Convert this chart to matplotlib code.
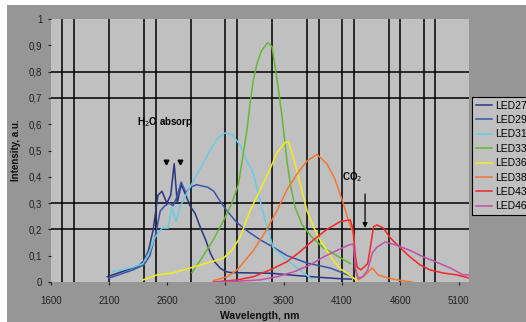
import matplotlib
matplotlib.use("Agg")
import matplotlib.pyplot as plt
from matplotlib.patches import Rectangle
from matplotlib.ticker import FuncFormatter

plt.rcParams['font.family'] = ['Liberation Sans', 'DejaVu Sans']

# ---------------- data ----------------
led27_wl = [2085, 2150, 2250, 2350, 2400, 2440, 2480, 2520, 2555, 2597, 2630, 2660, 2686, 2720, 2760, 2795,
            2840, 2882, 2930, 2970, 3010, 3054, 3100, 3140, 3250, 3400, 3500, 3700, 3900, 4100, 4180]
led27_i = [0.02, 0.03, 0.045, 0.06, 0.08, 0.12, 0.2, 0.33, 0.345, 0.30, 0.33, 0.45, 0.30, 0.37, 0.33, 0.29,
           0.26, 0.21, 0.16, 0.11, 0.075, 0.053, 0.04, 0.036, 0.035, 0.034, 0.033, 0.025, 0.018, 0.012, 0.011]

led29_wl = [2100, 2200, 2300, 2400, 2450, 2500, 2540, 2580, 2620, 2650, 2680, 2720, 2760, 2800, 2850, 2900,
            2950, 3000, 3050, 3113, 3200, 3300, 3400, 3500, 3630, 3800, 4000, 4190]
led29_i = [0.015, 0.03, 0.045, 0.065, 0.1, 0.18, 0.27, 0.29, 0.30, 0.29, 0.32, 0.38, 0.34, 0.36, 0.37, 0.365,
           0.36, 0.345, 0.31, 0.27, 0.225, 0.19, 0.16, 0.135, 0.10, 0.072, 0.053, 0.02]

led31_wl = [2130, 2200, 2300, 2392, 2453, 2496, 2555, 2608, 2640, 2676, 2710, 2770, 2856, 2968, 3030, 3096,
            3160, 3225, 3285, 3340, 3397, 3455, 3510, 3627, 3740, 3843]
led31_i = [0.04, 0.045, 0.055, 0.07, 0.12, 0.17, 0.205, 0.205, 0.285, 0.23, 0.285, 0.34, 0.41, 0.50, 0.545, 0.567,
           0.56, 0.52, 0.46, 0.41, 0.31, 0.21, 0.13, 0.084, 0.046, 0.01]

led33_wl = [2812, 2910, 2995, 3080, 3155, 3210, 3250, 3285, 3311, 3340, 3370, 3410, 3463, 3500, 3525, 3555,
            3585, 3610, 3628, 3655, 3697, 3755, 3843, 3940, 4057, 4171]
led33_i = [0.035, 0.10, 0.16, 0.23, 0.30, 0.37, 0.48, 0.58, 0.68, 0.77, 0.83, 0.88, 0.91, 0.895, 0.82, 0.73,
           0.63, 0.53, 0.46, 0.375, 0.285, 0.22, 0.17, 0.13, 0.10, 0.07]

led36_wl = [2392, 2512, 2650, 2795, 2940, 3080, 3155, 3225, 3310, 3397, 3483, 3540, 3611, 3640, 3683, 3740,
            3800, 3855, 3912, 3970, 4030, 4085, 4154, 4200, 4230]
led36_i = [0.008, 0.027, 0.035, 0.053, 0.072, 0.09, 0.12, 0.17, 0.27, 0.35, 0.43, 0.49, 0.53, 0.535, 0.475, 0.375,
           0.27, 0.21, 0.16, 0.12, 0.08, 0.05, 0.03, 0.015, 0.005]

led38_wl = [2995, 3115, 3200, 3340, 3455, 3540, 3627, 3713, 3800, 3885, 3970, 4040, 4110, 4154, 4197, 4215,
            4240, 4300, 4360, 4410, 4500, 4600, 4700]
led38_i = [0.005, 0.02, 0.046, 0.12, 0.2, 0.27, 0.35, 0.41, 0.46, 0.485, 0.45, 0.39, 0.30, 0.236, 0.186, 0.05,
           0.008, 0.027, 0.053, 0.027, 0.015, 0.006, 0.0]

led43_wl = [3000, 3200, 3340, 3483, 3627, 3740, 3855, 3970, 4085, 4171, 4195, 4215, 4230, 4260, 4290, 4320,
            4343, 4370, 4400, 4455, 4510, 4600, 4685, 4770, 4855, 4970, 5085, 5190]
led43_i = [0.0, 0.008, 0.02, 0.046, 0.077, 0.115, 0.16, 0.2, 0.23, 0.236, 0.2, 0.1, 0.057, 0.046, 0.057, 0.07,
           0.13, 0.21, 0.217, 0.205, 0.17, 0.13, 0.095, 0.065, 0.046, 0.034, 0.027, 0.015]

led46_wl = [3000, 3200, 3397, 3540, 3683, 3826, 3940, 4057, 4154, 4197, 4220, 4240, 4280, 4320, 4360, 4400,
            4470, 4570, 4685, 4800, 4910, 5030, 5140, 5190]
led46_i = [0.0, 0.003, 0.008, 0.02, 0.038, 0.065, 0.095, 0.12, 0.14, 0.145, 0.04, 0.015, 0.02, 0.046, 0.11, 0.133,
           0.152, 0.14, 0.12, 0.095, 0.076, 0.053, 0.027, 0.027]

series_names = ["LED27", "LED29", "LED31", "LED33", "LED36", "LED38", "LED43", "LED46"]
series_colors = ["#2B3580", "#3A55A8", "#66CCE6", "#66B832", "#F2EE1E", "#F07832", "#F02828", "#C050A8"]
series_data = [(led27_wl, led27_i), (led29_wl, led29_i), (led31_wl, led31_i), (led33_wl, led33_i),
               (led36_wl, led36_i), (led38_wl, led38_i), (led43_wl, led43_i), (led46_wl, led46_i)]

x_ticks = [1600, 2100, 2600, 3100, 3600, 4100, 4600, 5100]
y_ticks = [0, 0.1, 0.2, 0.3, 0.4, 0.5, 0.6, 0.7, 0.8, 0.9, 1.0]
v_grid = [1700, 1800, 2100, 2400, 2500, 2800, 3100, 3200, 3500, 3800, 3900, 4100, 4200, 4500, 4600, 4800, 4900]
h_grid = [0.2, 0.3, 0.7, 0.8]

# ---------------- figure ----------------
W, H = 526, 322
fig = plt.figure(figsize=(W / 100, H / 100), dpi=100, facecolor="white")
bg = Rectangle((7 / W, 0), 1, 317 / H, transform=fig.transFigure,
               facecolor="#969696", edgecolor="none", zorder=-10)
fig.add_artist(bg)

ax = fig.add_axes([50.7 / W, 1 - 282 / H, (469 - 50.7) / W, (282 - 19) / H])
ax.set_facecolor("#C0C0C0")
for s in ax.spines.values():
    s.set_visible(False)

for g in v_grid:
    ax.axvline(g, color="black", lw=1.1, zorder=1)
for g in h_grid:
    ax.axhline(g, color="black", lw=1.1, zorder=1)

handles = []
for name, col, (wl, inten) in zip(series_names, series_colors, series_data):
    h, = ax.plot(wl, inten, color=col, lw=1.1, label=name, zorder=3)
    handles.append(h)

ax.set_xlim(1600, 5190)
ax.set_ylim(0, 1)
ax.set_xticks(x_ticks)
ax.set_yticks(y_ticks)
ax.yaxis.set_major_formatter(FuncFormatter(lambda v, p: ("%g" % round(v, 1)).replace(".", ",")))
ax.tick_params(axis="both", labelsize=7, colors="#202020", length=2, width=0.8)
ax.tick_params(axis="x", pad=8)
ax.tick_params(axis="y", pad=4)

ax.set_xlabel("Wavelength, nm", fontsize=7.5, fontweight="bold", labelpad=4, color="#101010")
ax.set_ylabel("Intensity, a.u.", fontsize=7, fontweight="bold", labelpad=6, color="#101010")

# annotations
ax.text(2341, 0.608, "H$_2$O absorp", fontsize=7, fontweight="bold", va="center", ha="left", zorder=5)
ax.text(4100, 0.40, "CO$_2$", fontsize=7, fontweight="bold", va="center", ha="left", zorder=5)
ax.annotate("", xy=(4298, 0.195), xytext=(4298, 0.345),
            arrowprops=dict(arrowstyle="-|>", color="black", lw=0.9, mutation_scale=7), zorder=5)
ax.plot([2590, 2710], [0.458, 0.458], linestyle="none", marker="v", color="black", markersize=3.3, zorder=5)

leg = fig.legend(handles=handles, loc="upper left", bbox_to_anchor=(472 / W, 1 - 97 / H),
                 fontsize=7.5, frameon=True, fancybox=False, framealpha=1, borderpad=0.35,
                 labelspacing=0.42, handlelength=1.6, handletextpad=0.3, borderaxespad=0)
leg.get_frame().set_facecolor("#C0C0C0")
leg.get_frame().set_edgecolor("black")
leg.get_frame().set_linewidth(0.8)

fig.savefig("out.png", dpi=100, facecolor="white")
